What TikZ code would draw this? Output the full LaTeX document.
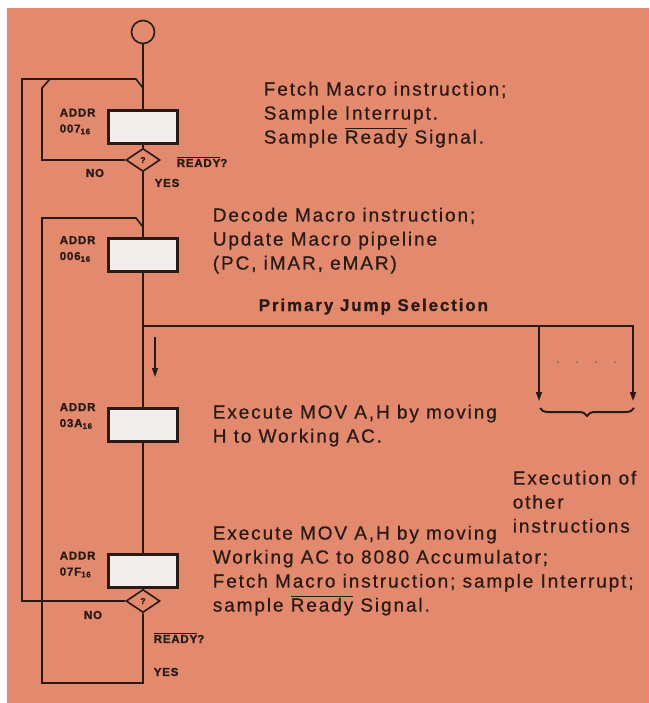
\documentclass[tikz,border=0pt]{standalone}
\usepackage{fontspec}
\setmainfont{Liberation Sans}
\newfontfamily\descfont[LetterSpace=10,FakeBold=0.6]{Liberation Sans}
\newfontfamily\lblfont[LetterSpace=7,FakeBold=1.2]{Liberation Sans Bold}
\newfontfamily\headfont[LetterSpace=11,FakeBold=1]{Liberation Sans Bold}
\usetikzlibrary{shapes.geometric,arrows.meta,decorations.pathreplacing}
\definecolor{salmon}{HTML}{E2896E}
\definecolor{ink}{HTML}{2A1A16}
\definecolor{boxfill}{HTML}{F1EDEC}
\newcommand\ovl[1]{\ensuremath{\overline{\hbox{#1}}}}
\begin{document}
\begin{tikzpicture}[x=1pt,y=-1pt,color=ink,line width=1.6pt,
  box/.style={draw,line width=3pt,fill=boxfill,minimum width=69pt,minimum height=33pt,inner sep=0pt},
  dia/.style={diamond,draw,line width=1.6pt,fill=salmon,minimum width=34pt,minimum height=23pt,inner sep=0pt,font=\lblfont\fontsize{8.5}{8.5}\selectfont},
  lbl/.style={font=\lblfont\fontsize{11.5}{16}\selectfont,inner sep=0pt,align=left},
  desc/.style={font=\descfont\fontsize{19}{24}\selectfont,inner sep=0pt,align=left,anchor=north west},
  tip/.style={-{Triangle[width=6pt,length=9pt]}}]
\useasboundingbox (0,0) rectangle (649,703);
\fill[white] (0,0) rectangle (649,703);
\fill[salmon] (7,8) rectangle (649,703);
% nodes
\node[circle,draw,line width=1.6pt,minimum size=23pt,inner sep=0pt] (start) at (143,32) {};
\node[box] (b1) at (143,127.5) {};
\node[dia] (d1) at (143,160) {?};
\node[box] (b2) at (143,255) {};
\node[box] (b3) at (143,424.5) {};
\node[box] (b4) at (143,570.5) {};
\node[dia] (d2) at (143,601) {?};
% coordinates
\coordinate (j1) at (143,88);
\coordinate (j2) at (143,227);
\coordinate (tl) at (22,79);
\coordinate (tr) at (136,79);
\coordinate (bl) at (22,601);
\coordinate (n1a) at (42,160);
\coordinate (n1b) at (42,88);
\coordinate (n1c) at (50,79);
\coordinate (y2) at (143,683);
\coordinate (y2l) at (42,683);
\coordinate (y2t) at (42,218);
\coordinate (y2r) at (136,218);
\coordinate (pj) at (143,326);
\coordinate (pb) at (539,326);
\coordinate (e1) at (539,401);
\coordinate (e2) at (633,401);
\coordinate (sa) at (155,337);
\coordinate (sb) at (155,377);
\coordinate (br1) at (634,408);
\coordinate (br2) at (540,408);
% main flow
\draw (start) -- (b1);
\draw (b1) -- (d1);
\draw (d1) -- (b2);
\draw (b2) -- (b3);
\draw (b3) -- (b4);
\draw (b4) -- (d2);
% loops
\draw (d2.west) -- (bl) -- (tl) -- (tr) -- (j1);
\draw (d1.west) -- (n1a) -- (n1b) -- (n1c);
\draw (d2.south) -- (y2) -- (y2l) -- (y2t) -- (y2r) -- (j2);
% primary jump
\draw[tip] (pj) -| (e2);
\draw[tip] (pb) -- (e1);
\draw[tip,line width=1.2pt] (sa) -- (sb);
\foreach \xx in {558,577,596,615} \fill[ink!60] (\xx,362) circle (1.1pt);
\draw[decorate,decoration={brace,amplitude=8pt},line width=2pt] (br1) -- (br2);
% address labels
\node[lbl,anchor=west] (a1) at (59,121.5) {ADDR\\007\textsubscript{16}};
\node[lbl,anchor=west] (a2) at (59,249) {ADDR\\006\textsubscript{16}};
\node[lbl,anchor=west] (a3) at (59,416) {ADDR\\03A\textsubscript{16}};
\node[lbl,anchor=west] (a4) at (59,564.5) {ADDR\\07F\textsubscript{16}};
\node[lbl,anchor=west] (r1) at (176,162) {\ovl{READY}?};
\node[lbl] (no1) at (95,173) {NO};
\node[lbl] (yes1) at (167,183) {YES};
\node[lbl] (no2) at (93,615) {NO};
\node[lbl,anchor=west] (r2) at (153,638) {\ovl{READY}?};
\node[lbl,anchor=west] (yes2) at (153,672) {YES};
% descriptions
\node[desc] (t1) at (263,81) {Fetch Macro instruction;\\Sample Interrupt.\\Sample \ovl{Ready} Signal.};
\node[desc] (t2) at (212,207) {Decode Macro instruction;\\Update Macro pipeline\\(PC, iMAR, eMAR)};
\node[font=\headfont\fontsize{17}{17}\selectfont,inner sep=0pt,anchor=base west] (pjs) at (258,311) {Primary Jump Selection};
\node[desc] (t3) at (212,404) {Execute MOV A,H by moving\\H to Working AC.};
\node[desc] (t4) at (512,470) {Execution of\\other\\instructions};
\node[desc] (t5) at (212,525) {Execute MOV A,H by moving\\Working AC to 8080 Accumulator;\\Fetch Macro instruction; sample Interrupt;\\sample \ovl{Ready} Signal.};
\end{tikzpicture}
\end{document}
